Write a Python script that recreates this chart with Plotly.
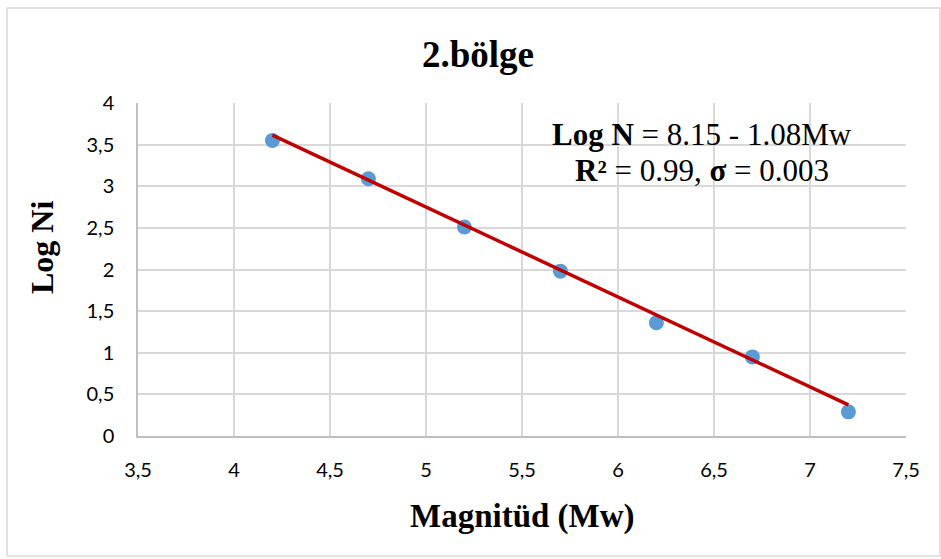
import plotly.graph_objects as go

# Magnitude bins and cumulative log-counts
magnitude = [4.2, 4.7, 5.2, 5.7, 6.2, 6.7, 7.2]
log_ni = [3.55, 3.09, 2.51, 1.98, 1.36, 0.95, 0.29]

# Fitted Gutenberg-Richter relation: Log N = a - b*Mw
fit_a = 8.15
fit_b = 1.08
fit_range = [4.2, 7.2]

x_ticks = [3.5, 4, 4.5, 5, 5.5, 6, 6.5, 7, 7.5]
y_ticks = [0, 0.5, 1, 1.5, 2, 2.5, 3, 3.5, 4]

serif = "Liberation Serif"
sans = "Lato"

fig = go.Figure()
fig.add_trace(go.Scatter(
    x=magnitude, y=log_ni, mode="markers",
    marker=dict(size=15, color="#5B9BD5"),
    showlegend=False, cliponaxis=False,
))
fig.add_trace(go.Scatter(
    x=fit_range, y=[fit_a - fit_b * m for m in fit_range], mode="lines",
    line=dict(color="#C00000", width=3.5),
    showlegend=False, cliponaxis=False,
))

W, H = 941, 559
L, R, T, B = 138, 35, 103, 123
pw, ph = W - L - R, H - T - B

def px(x):
    return (x - L) / pw

def py(y):
    return (H - B - y) / ph

grid = "#D9D9D9"
fig.update_layout(
    width=W, height=H,
    margin=dict(l=L, r=R, t=T, b=B),
    paper_bgcolor="white", plot_bgcolor="white",
    separators=",.",
    xaxis=dict(
        range=[3.5, 7.5], tickvals=x_ticks, showgrid=True, gridcolor=grid, gridwidth=1.5,
        showline=True, linecolor="#BFBFBF", linewidth=1.5, zeroline=False,
        ticks="", ticklabelstandoff=15,
        tickfont=dict(family=sans, size=20, color="#000000"),
    ),
    yaxis=dict(
        range=[0, 4], tickvals=y_ticks, showgrid=True, gridcolor=grid, gridwidth=1.5,
        showline=True, linecolor="#BFBFBF", linewidth=1.5, zeroline=False,
        ticks="", ticklabelstandoff=18,
        tickfont=dict(family=sans, size=20, color="#000000"),
    ),
    shapes=[dict(
        type="rect", xref="paper", yref="paper",
        x0=px(7), x1=px(940), y0=py(556), y1=py(8),
        line=dict(color="#D9D9D9", width=1.5), fillcolor="rgba(0,0,0,0)", layer="below",
    )],
    annotations=[
        dict(text="<b>2.bölge</b>", xref="paper", yref="paper", x=px(478), y=py(54),
             xanchor="center", yanchor="middle", showarrow=False,
             font=dict(family=serif, size=37, color="#000000")),
        dict(text="<b>Magnitüd (Mw)</b>", xref="paper", yref="paper", x=px(522), y=py(516),
             xanchor="center", yanchor="middle", showarrow=False,
             font=dict(family=serif, size=33, color="#000000")),
        dict(text="<b>Log Ni</b>", xref="paper", yref="paper", x=px(42), y=py(248),
             xanchor="center", yanchor="middle", showarrow=False, textangle=-90,
             font=dict(family=serif, size=32, color="#000000")),
        dict(text=f"<b>Log N</b> = {fit_a:.2f} - {fit_b:.2f}Mw", xref="paper", yref="paper",
             x=px(702), y=py(134), xanchor="center", yanchor="middle", showarrow=False,
             font=dict(family=serif, size=31, color="#000000")),
        dict(text="<b>R²</b> = 0.99, <b>σ</b> = 0.003", xref="paper", yref="paper",
             x=px(702), y=py(170), xanchor="center", yanchor="middle", showarrow=False,
             font=dict(family=serif, size=31, color="#000000")),
    ],
)

fig.write_html("out.html")
